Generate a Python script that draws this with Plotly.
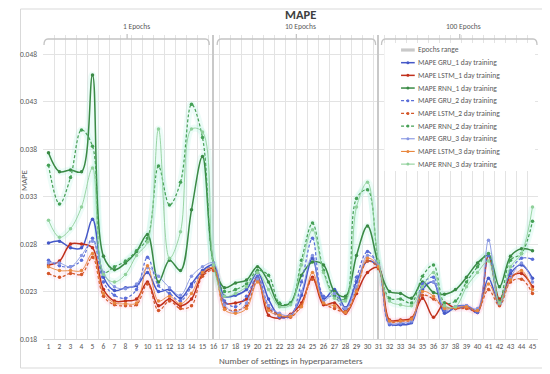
import plotly.graph_objects as go

settings = [str(i) for i in range(1, 46)]

gru_1 = [0.0281, 0.0283, 0.0276, 0.0276, 0.0306, 0.0245, 0.0231, 0.0234, 0.0236, 0.0250, 0.0230, 0.0232, 0.0223, 0.0238, 0.0252, 0.0258,
         0.0225, 0.0226, 0.0232, 0.0250, 0.0222, 0.0204, 0.0205, 0.0226, 0.0265, 0.0222, 0.0232, 0.0213, 0.0240, 0.0262, 0.0256,
         0.0196, 0.0195, 0.0197, 0.0232, 0.0240, 0.0207, 0.0214, 0.0215, 0.0210, 0.0244, 0.0216, 0.0249, 0.0258, 0.0244]
lstm_1 = [0.0258, 0.0262, 0.0280, 0.0280, 0.0276, 0.0232, 0.0220, 0.0220, 0.0222, 0.0240, 0.0215, 0.0222, 0.0215, 0.0222, 0.0248, 0.0254,
          0.0218, 0.0218, 0.0222, 0.0245, 0.0205, 0.0202, 0.0206, 0.0218, 0.0245, 0.0216, 0.0218, 0.0207, 0.0228, 0.0250, 0.0255,
          0.0200, 0.0200, 0.0202, 0.0223, 0.0203, 0.0218, 0.0212, 0.0214, 0.0208, 0.0268, 0.0222, 0.0245, 0.0249, 0.0235]
rnn_1 = [0.0376, 0.0356, 0.0358, 0.0356, 0.0458, 0.0267, 0.0253, 0.0260, 0.0272, 0.0290, 0.0240, 0.0263, 0.0252, 0.0316, 0.0372, 0.0260,
         0.0234, 0.0239, 0.0242, 0.0256, 0.0240, 0.0216, 0.0218, 0.0247, 0.0261, 0.0258, 0.0230, 0.0225, 0.0268, 0.0299, 0.0258,
         0.0230, 0.0228, 0.0223, 0.0240, 0.0229, 0.0227, 0.0232, 0.0245, 0.0260, 0.0268, 0.0235, 0.0267, 0.0275, 0.0273]
gru_2 = [0.0263, 0.0257, 0.0256, 0.0263, 0.0286, 0.0240, 0.0226, 0.0223, 0.0232, 0.0266, 0.0236, 0.0228, 0.0220, 0.0235, 0.0250, 0.0256,
         0.0220, 0.0214, 0.0225, 0.0246, 0.0215, 0.0203, 0.0204, 0.0240, 0.0286, 0.0225, 0.0225, 0.0210, 0.0245, 0.0272, 0.0256,
         0.0195, 0.0196, 0.0198, 0.0238, 0.0245, 0.0210, 0.0212, 0.0213, 0.0208, 0.0268, 0.0218, 0.0252, 0.0265, 0.0264]
lstm_2 = [0.0249, 0.0245, 0.0249, 0.0248, 0.0266, 0.0225, 0.0216, 0.0215, 0.0216, 0.0238, 0.0210, 0.0220, 0.0212, 0.0215, 0.0246, 0.0252,
          0.0213, 0.0210, 0.0215, 0.0242, 0.0212, 0.0206, 0.0203, 0.0216, 0.0243, 0.0218, 0.0212, 0.0209, 0.0232, 0.0262, 0.0254,
          0.0198, 0.0199, 0.0200, 0.0226, 0.0222, 0.0214, 0.0212, 0.0212, 0.0210, 0.0232, 0.0215, 0.0240, 0.0243, 0.0228]
rnn_2 = [0.0363, 0.0322, 0.0350, 0.0400, 0.0383, 0.0250, 0.0256, 0.0262, 0.0273, 0.0286, 0.0362, 0.0321, 0.0345, 0.0427, 0.0392, 0.0258,
         0.0230, 0.0232, 0.0238, 0.0252, 0.0247, 0.0218, 0.0218, 0.0263, 0.0302, 0.0252, 0.0226, 0.0222, 0.0328, 0.0337, 0.0260,
         0.0223, 0.0222, 0.0218, 0.0246, 0.0258, 0.0218, 0.0220, 0.0240, 0.0256, 0.0270, 0.0220, 0.0263, 0.0270, 0.0304]
gru_3 = [0.0260, 0.0260, 0.0256, 0.0268, 0.0283, 0.0250, 0.0235, 0.0233, 0.0238, 0.0255, 0.0246, 0.0234, 0.0226, 0.0246, 0.0256, 0.0260,
         0.0216, 0.0208, 0.0218, 0.0243, 0.0215, 0.0207, 0.0205, 0.0230, 0.0268, 0.0220, 0.0228, 0.0212, 0.0235, 0.0268, 0.0258,
         0.0197, 0.0197, 0.0199, 0.0235, 0.0240, 0.0212, 0.0214, 0.0215, 0.0212, 0.0284, 0.0217, 0.0244, 0.0260, 0.0240]
lstm_3 = [0.0256, 0.0252, 0.0252, 0.0252, 0.0270, 0.0228, 0.0218, 0.0217, 0.0218, 0.0257, 0.0220, 0.0225, 0.0217, 0.0228, 0.0250, 0.0255,
          0.0211, 0.0207, 0.0212, 0.0240, 0.0210, 0.0205, 0.0204, 0.0214, 0.0250, 0.0218, 0.0215, 0.0208, 0.0230, 0.0265, 0.0256,
          0.0199, 0.0199, 0.0201, 0.0230, 0.0225, 0.0212, 0.0213, 0.0214, 0.0210, 0.0238, 0.0218, 0.0242, 0.0252, 0.0232]
rnn_3 = [0.0305, 0.0287, 0.0296, 0.0319, 0.0360, 0.0248, 0.0240, 0.0248, 0.0268, 0.0282, 0.0401, 0.0265, 0.0293, 0.0401, 0.0398, 0.0258,
         0.0225, 0.0228, 0.0235, 0.0250, 0.0232, 0.0214, 0.0216, 0.0258, 0.0295, 0.0250, 0.0223, 0.0220, 0.0319, 0.0345, 0.0262,
         0.0220, 0.0216, 0.0215, 0.0235, 0.0250, 0.0215, 0.0214, 0.0235, 0.0250, 0.0262, 0.0218, 0.0256, 0.0270, 0.0319]

epochs_range_x = ["16", "31"]
epochs_range_top = [0.050, 0.050]
epoch_labels = ["1 Epochs", "10 Epochs", "100 Epochs"]
y_ticks = [0.018, 0.023, 0.028, 0.033, 0.038, 0.043, 0.048]

series_names = ["MAPE GRU_1 day training", "MAPE LSTM_1 day training", "MAPE RNN_1 day training",
                "MAPE GRU_2 day training", "MAPE LSTM_2 day training", "MAPE RNN_2 day training",
                "MAPE GRU_3 day training", "MAPE LSTM_3 day training", "MAPE RNN_3 day training"]
series_values = [gru_1, lstm_1, rnn_1, gru_2, lstm_2, rnn_2, gru_3, lstm_3, rnn_3]
series_colors = ["#4558c8", "#c0301c", "#3a8a45",
                 "#5a6ed8", "#d4572a", "#45a055",
                 "#8796e2", "#e8873e", "#8fd09a"]
series_dash = ["solid", "solid", "solid", "3px,2px", "3px,2px", "3px,2px", "solid", "solid", "solid"]
series_width = [1.5, 1.5, 1.5, 1.2, 1.2, 1.2, 0.9, 0.9, 0.9]
glow = [None, "rgba(255,200,222,0.16)", "rgba(175,242,222,0.22)",
        None, "rgba(255,200,222,0.16)", "rgba(175,242,222,0.22)",
        None, "rgba(255,200,222,0.16)", "rgba(175,242,222,0.22)"]

FONT = "Carlito, Lato, sans-serif"
GREY = "#595959"
# the page body has an 8px default margin, so the figure is 8px smaller in each direction
PAGE = 8
W, H = 550 - PAGE, 374 - PAGE
PL, PR, PT, PB = 32, 538, 35, 339          # plot area in window pixels
L, R, T, B = PL - PAGE, 550 - PR, PT - PAGE, 374 - PB


def px(x):
    return (x - PL) / (PR - PL)


def py(y):
    return (PB - y) / (PB - PT)


fig = go.Figure()

fig.add_trace(go.Bar(x=epochs_range_x, y=[t - y_ticks[0] for t in epochs_range_top], base=y_ticks[0],
                     width=0.18, marker=dict(color="#c9c9c9", line=dict(width=0)),
                     name="Epochs range", showlegend=False, hoverinfo="skip"))

for vals, g in zip(series_values, glow):
    if g:
        fig.add_trace(go.Scatter(x=settings, y=vals, mode="lines",
                                 line=dict(color=g, width=7, shape="spline", smoothing=1.0),
                                 showlegend=False, hoverinfo="skip"))

for name, vals, c, d, w in zip(series_names, series_values, series_colors, series_dash, series_width):
    fig.add_trace(go.Scatter(x=settings, y=vals, mode="lines+markers", name=name,
                             line=dict(color=c, width=w, dash=d, shape="spline", smoothing=1.0),
                             marker=dict(color=c, size=3.5), showlegend=False))

shapes = []
annotations = []

# outer frame
shapes.append(dict(type="rect", xref="paper", yref="paper", x0=px(9), x1=px(544), y0=py(368), y1=py(9),
                   line=dict(color="#d9d9d9", width=1), layer="below"))

# legend background
shapes.append(dict(type="rect", xref="paper", yref="paper", x0=px(381), x1=px(535), y0=py(171), y1=py(43),
                   fillcolor="white", line=dict(width=0), layer="above"))

# brackets
brackets = [(33, 202, 118, 128), (210, 372, 291, 295), (378, 537, 458, 462)]
for (x0, x1, xc, xl), lab in zip(brackets, epoch_labels):
    path = (f"M {px(x0)} {py(45)} Q {px(x0)} {py(39)} {px(x0 + 4)} {py(39)} "
            f"L {px(x1 - 4)} {py(39)} Q {px(x1)} {py(39)} {px(x1)} {py(45)}")
    shapes.append(dict(type="path", xref="paper", yref="paper", path=path,
                       line=dict(color="#c4c4c4", width=1.3), layer="above"))
    shapes.append(dict(type="line", xref="paper", yref="paper", x0=px(xc), x1=px(xc), y0=py(39), y1=py(34),
                       line=dict(color="#c4c4c4", width=1.3), layer="above"))
    annotations.append(dict(text=lab, xref="paper", yref="paper", x=px(xl), y=py(26), showarrow=False,
                            xanchor="center", yanchor="middle", font=dict(family=FONT, size=7.5, color=GREY)))

# manual legend
leg_x0, leg_x1, leg_text = 398, 412, 413.5
leg_y0, leg_dy = 50, 12.68
shapes.append(dict(type="rect", xref="paper", yref="paper", x0=px(leg_x0), x1=px(leg_x1),
                   y0=py(leg_y0 + 1.6), y1=py(leg_y0 - 1.6), fillcolor="#c9c9c9", line=dict(width=0), layer="above"))
annotations.append(dict(text="Epochs range", xref="paper", yref="paper", x=px(leg_text), y=py(leg_y0),
                        showarrow=False, xanchor="left", yanchor="middle",
                        font=dict(family=FONT, size=7.5, color=GREY)))
for i, (name, c, d, w) in enumerate(zip(series_names, series_colors, series_dash, series_width)):
    yy = leg_y0 + (i + 1) * leg_dy
    shapes.append(dict(type="line", xref="paper", yref="paper", x0=px(leg_x0), x1=px(leg_x1), y0=py(yy), y1=py(yy),
                       line=dict(color=c, width=max(w, 1.1), dash=d), layer="above"))
    shapes.append(dict(type="circle", xref="paper", yref="paper", x0=px(403.5), x1=px(406.5),
                       y0=py(yy + 1.5), y1=py(yy - 1.5), fillcolor=c, line=dict(width=0), layer="above"))
    annotations.append(dict(text=name, xref="paper", yref="paper", x=px(leg_text), y=py(yy),
                            showarrow=False, xanchor="left", yanchor="middle",
                            font=dict(family=FONT, size=7.5, color=GREY)))

# titles
annotations.append(dict(text="<b>MAPE</b>", xref="paper", yref="paper", x=px(295), y=py(14), showarrow=False,
                        xanchor="center", yanchor="middle", font=dict(family=FONT, size=12.5, color="#404040")))
annotations.append(dict(text="MAPE", xref="paper", yref="paper", x=px(12.5), y=py(180), showarrow=False,
                        textangle=-90, xanchor="center", yanchor="middle",
                        font=dict(family=FONT, size=8.5, color=GREY)))
annotations.append(dict(text="Number of settings in hyperparameters", xref="paper", yref="paper",
                        x=px(285), y=py(360), showarrow=False, xanchor="center", yanchor="middle",
                        font=dict(family=FONT, size=9, color=GREY)))

fig.update_layout(
    width=W, height=H,
    margin=dict(l=L, r=R, t=T, b=B, pad=0),
    paper_bgcolor="white", plot_bgcolor="white",
    showlegend=False,
    shapes=shapes, annotations=annotations,
    xaxis=dict(type="category", categoryorder="array", categoryarray=settings,
               range=[-0.5, 44.5], tickson="boundaries", showgrid=True, tickangle=0,
               gridcolor="#e3e3e3", gridwidth=1, ticks="", showline=True, linecolor="#d9d9d9",
               tickfont=dict(family=FONT, size=7.5, color=GREY), fixedrange=True),
    yaxis=dict(range=[0.018, 0.050], tickvals=y_ticks, ticktext=[f"{v:.3f}" for v in y_ticks],
               showgrid=True, gridcolor="#e3e3e3", gridwidth=1, zeroline=False, showline=False,
               tickfont=dict(family=FONT, size=7.5, color=GREY), ticks="", ticklabelstandoff=5),
    bargap=0,
)

fig.write_html("out.html")
